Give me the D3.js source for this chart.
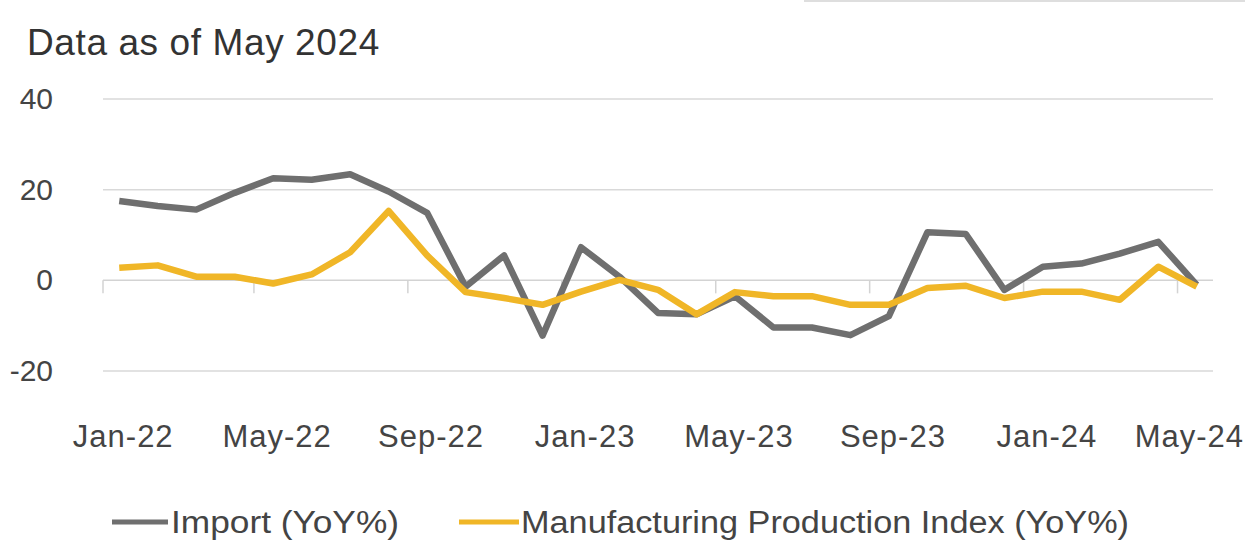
<!DOCTYPE html>
<html>
<head>
<meta charset="utf-8">
<script src="https://cdn.jsdelivr.net/npm/d3@7"></script>
<style>
  html, body { margin: 0; padding: 0; background: #ffffff; }
  svg { display: block; }
  text { font-family: "Liberation Sans", Arial, sans-serif; }
</style>
</head>
<body>
<svg id="chart" width="1245" height="544"></svg>
<script>
// Monthly categories, Jan-22 through May-24
const months = [
  "Jan-22","Feb-22","Mar-22","Apr-22","May-22","Jun-22","Jul-22","Aug-22","Sep-22","Oct-22","Nov-22","Dec-22",
  "Jan-23","Feb-23","Mar-23","Apr-23","May-23","Jun-23","Jul-23","Aug-23","Sep-23","Oct-23","Nov-23","Dec-23",
  "Jan-24","Feb-24","Mar-24","Apr-24","May-24"
];

// Import, year-over-year %
const importYoY = [
  17.5, 16.4, 15.6, 19.3, 22.5, 22.2, 23.4, 19.6, 14.9, -1.4, 5.5, -12.2,
  7.3, 0.8, -7.2, -7.5, -3.5, -10.4, -10.4, -12.1, -7.9, 10.6, 10.2, -2.1,
  3.0, 3.7, 5.9, 8.5, -1.0
];

// Manufacturing Production Index, year-over-year %
const mfgYoY = [
  2.8, 3.3, 0.8, 0.8, -0.7, 1.3, 6.2, 15.3, 5.5, -2.6, -3.9, -5.4,
  -2.5, 0.1, -2.1, -7.5, -2.6, -3.5, -3.5, -5.4, -5.4, -1.7, -1.2, -3.9,
  -2.5, -2.5, -4.3, 3.0, -1.4
];

const yTicks = [40, 20, 0, -20];
const xTickLabels = ["Jan-22","May-22","Sep-22","Jan-23","May-23","Sep-23","Jan-24","May-24"];

const seriesNames = ["Import (YoY%)", "Manufacturing Production Index (YoY%)"];
const seriesColors = ["#6f6f6f", "#f0b627"];

const svg = d3.select("#chart");

// faint frame edge along the top right
svg.append("rect").attr("x", 804).attr("y", 0).attr("width", 441).attr("height", 2).attr("fill", "#dedede");

const x = d3.scaleBand().domain(months).range([100, 1216]).paddingInner(0).paddingOuter(0);
const y = d3.scaleLinear().domain([-20, 40]).range([371, 99]);
const cx = m => x(m) + x.bandwidth() / 2;

// title
svg.append("text")
  .attr("x", 27).attr("y", 55)
  .attr("font-size", 37).attr("fill", "#333333")
  .attr("letter-spacing", 0.6)
  .text("Data as of May 2024");

// horizontal gridlines and y labels (plain hyphen for negatives)
const yAxis = d3.axisLeft(y).tickValues(yTicks).tickSize(0).tickPadding(0).tickFormat(d => String(d));
const gy = svg.append("g").attr("transform", "translate(53,0)").call(yAxis);
gy.select(".domain").remove();
gy.selectAll("text").attr("font-size", 30).attr("fill", "#444444").attr("font-family", "Liberation Sans, Arial, sans-serif");

svg.append("g").selectAll("line").data(yTicks.filter(d => d !== 0)).join("line")
  .attr("x1", 103).attr("x2", 1213)
  .attr("y1", d => y(d)).attr("y2", d => y(d))
  .attr("stroke", "#d9d9d9").attr("stroke-width", 1.5);

// category axis on the zero line, ticks at the left edge of every fourth month
svg.append("line")
  .attr("x1", 103).attr("x2", 1213)
  .attr("y1", y(0)).attr("y2", y(0))
  .attr("stroke", "#d3d3d3").attr("stroke-width", 1.5);

const tickMonths = months.filter((m, i) => i % 4 === 0);
svg.append("g").selectAll("line").data(tickMonths).join("line")
  .attr("x1", d => Math.max(103, x(d))).attr("x2", d => Math.max(103, x(d)))
  .attr("y1", y(0)).attr("y2", y(0) + 13)
  .attr("stroke", "#d3d3d3").attr("stroke-width", 1.5);

svg.append("g").selectAll("text").data(xTickLabels).join("text")
  .attr("x", d => cx(d) + 4).attr("y", 447)
  .attr("text-anchor", "middle")
  .attr("font-size", 31).attr("fill", "#444444")
  .attr("letter-spacing", 1)
  .text(d => d)
  .each(function () {
    // keep the last label inside the right edge
    const b = this.getBBox();
    const over = b.x + b.width - 1244;
    if (over > 0) d3.select(this).attr("x", +d3.select(this).attr("x") - over);
  });

// series lines
const line = d3.line().x((d, i) => cx(months[i])).y(d => y(d));
[importYoY, mfgYoY].forEach((vals, k) => {
  svg.append("path")
    .datum(vals)
    .attr("d", line)
    .attr("fill", "none")
    .attr("stroke", seriesColors[k])
    .attr("stroke-width", 6.5)
    .attr("stroke-linejoin", "round")
    .attr("stroke-linecap", "butt");
});

// legend
const legendItems = [
  { name: seriesNames[0], color: seriesColors[0], x1: 112, x2: 168, tx: 171, w: 228 },
  { name: seriesNames[1], color: seriesColors[1], x1: 459, x2: 519, tx: 521, w: 608 }
];
const lg = svg.append("g");
legendItems.forEach(it => {
  lg.append("line")
    .attr("x1", it.x1).attr("x2", it.x2).attr("y1", 522).attr("y2", 522)
    .attr("stroke", it.color).attr("stroke-width", 5);
  lg.append("text")
    .attr("x", it.tx).attr("y", 533)
    .attr("font-size", 31).attr("fill", "#444444")
    .attr("textLength", it.w).attr("lengthAdjust", "spacingAndGlyphs")
    .text(it.name);
});
</script>
</body>
</html>
